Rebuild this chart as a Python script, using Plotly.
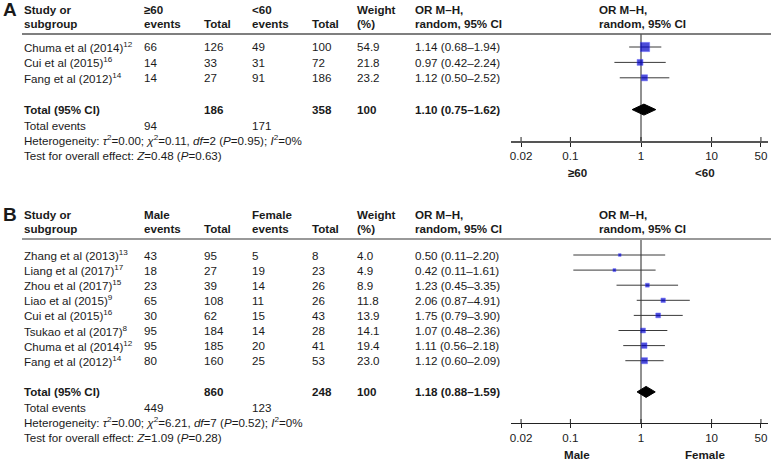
import plotly.graph_objects as go

# ---------------- data ----------------
A_studies = ["Chuma et al (2014)", "Cui et al (2015)", "Fang et al (2012)"]
A_refs = ["12", "16", "14"]
A_ev1 = [66, 14, 14]
A_tot1 = [126, 33, 27]
A_ev2 = [49, 31, 91]
A_tot2 = [100, 72, 186]
A_weight = [54.9, 21.8, 23.2]
A_or = [1.14, 0.97, 1.12]
A_lo = [0.68, 0.42, 0.50]
A_hi = [1.94, 2.24, 2.52]
A_sum_tot = [186, 358]
A_sum_events = [94, 171]
A_sum_or = [1.10, 0.75, 1.62]
A_het = ["0.00", "0.11", "2", "0.95", "0%"]
A_test = ["0.48", "0.63"]
A_groups = ["≥60", "<60"]

B_studies = ["Zhang et al (2013)", "Liang et al (2017)", "Zhou et al (2017)", "Liao et al (2015)",
             "Cui et al (2015)", "Tsukao et al (2017)", "Chuma et al (2014)", "Fang et al (2012)"]
B_refs = ["13", "17", "15", "9", "16", "8", "12", "14"]
B_ev1 = [43, 18, 23, 65, 30, 95, 95, 80]
B_tot1 = [95, 27, 39, 108, 62, 184, 185, 160]
B_ev2 = [5, 19, 14, 11, 15, 14, 20, 25]
B_tot2 = [8, 23, 26, 26, 43, 28, 41, 53]
B_weight = [4.0, 4.9, 8.9, 11.8, 13.9, 14.1, 19.4, 23.0]
B_or = [0.50, 0.42, 1.23, 2.06, 1.75, 1.07, 1.11, 1.12]
B_lo = [0.11, 0.11, 0.45, 0.87, 0.79, 0.48, 0.56, 0.60]
B_hi = [2.20, 1.61, 3.35, 4.91, 3.90, 2.36, 2.18, 2.09]
B_sum_tot = [860, 248]
B_sum_events = [449, 123]
B_sum_or = [1.18, 0.88, 1.59]
B_het = ["0.00", "6.21", "7", "0.52", "0%"]
B_test = ["1.09", "0.28"]
B_groups = ["Male", "Female"]

tick_vals = [0.02, 0.1, 1, 10, 50]
tick_text = ["0.02", "0.1", "1", "10", "50"]

# ---------------- layout constants ----------------
W, H = 771, 460
FONT = "Arial, Liberation Sans, sans-serif"
FS = 11.6
TXT = "#1a1a1a"
COLX = [22, 142, 202, 250, 310, 355, 413]   # column left edges (px)
PLOT_HDR_X = 597
AX_X0, AX_X1 = 511, 768
PX_ONE, PX_DEC = 641, 70.6
LOG_RANGE = [(AX_X0 - PX_ONE) / PX_DEC, (AX_X1 - PX_ONE) / PX_DEC]

fig = go.Figure()
ann = []


def px(x):
    return x / W


def py(y):
    return 1 - y / H


def text(x, y, s, bold=False, size=FS, anchor="left"):
    ann.append(dict(x=px(x), y=py(y), xref="paper", yref="paper", text=(f"<b>{s}</b>" if bold else s),
                    showarrow=False, xanchor=anchor, yanchor="middle",
                    font=dict(family=FONT, size=size, color=TXT)))


def panel(letter, top, row0, dy, axis_y, hdr_line_color, hdr_line_w, k, studies, refs,
          ev1, tot1, ev2, tot2, w, orv, lo, hi, sum_tot, sum_ev, sum_or, het, test, groups):
    xr = "x" if k == 1 else "x2"
    yr = "y" if k == 1 else "y2"
    # header
    text(1, top, letter, bold=True, size=19)
    y1, y2 = top, top + 14
    text(COLX[0], y1, "Study or", True); text(COLX[0], y2, "subgroup", True)
    text(COLX[1], y1, groups[0], True); text(COLX[1], y2, "events", True)
    text(COLX[2], y2, "Total", True)
    text(COLX[3], y1, groups[1], True); text(COLX[3], y2, "events", True)
    text(COLX[4], y2, "Total", True)
    text(COLX[5], y1, "Weight", True); text(COLX[5], y2, "(%)", True)
    text(COLX[6], y1, "OR M–H,", True); text(COLX[6], y2, "random, 95% CI", True)
    text(PLOT_HDR_X, y1, "OR M–H,", True); text(PLOT_HDR_X, y2, "random, 95% CI", True)
    line_y = top + 25
    fig.add_shape(type="line", xref="paper", yref="paper", x0=px(22), x1=1, y0=py(line_y), y1=py(line_y),
                  line=dict(color=hdr_line_color, width=hdr_line_w))
    # rows
    ys = [row0 + i * dy for i in range(len(studies))]
    for i, y in enumerate(ys):
        text(COLX[0], y, f"{studies[i]}<sup>{refs[i]}</sup>")
        text(COLX[1], y, str(ev1[i])); text(COLX[2], y, str(tot1[i]))
        text(COLX[3], y, str(ev2[i])); text(COLX[4], y, str(tot2[i]))
        text(COLX[5], y, f"{w[i]:.1f}")
        text(COLX[6], y, f"{orv[i]:.2f} ({lo[i]:.2f}–{hi[i]:.2f})")
    ty = ys[-1] + 2 * dy + 1
    text(COLX[0], ty, "Total (95% CI)", True)
    text(COLX[2], ty, str(sum_tot[0]), True)
    text(COLX[4], ty, str(sum_tot[1]), True)
    text(COLX[5], ty, "100", True)
    text(COLX[6], ty, f"{sum_or[0]:.2f} ({sum_or[1]:.2f}–{sum_or[2]:.2f})", True)
    text(COLX[0], ty + dy, "Total events")
    text(COLX[1], ty + dy, str(sum_ev[0])); text(COLX[3], ty + dy, str(sum_ev[1]))
    text(COLX[0], ty + 2 * dy,
         f"Heterogeneity: <i>τ</i><sup>2</sup>={het[0]}; <i>χ</i><sup>2</sup>={het[1]}, "
         f"<i>df</i>={het[2]} (<i>P</i>={het[3]}); <i>I</i><sup>2</sup>={het[4]}")
    text(COLX[0], ty + 3 * dy, f"Test for overall effect: <i>Z</i>={test[0]} (<i>P</i>={test[1]})")

    # null line
    fig.add_trace(go.Scatter(x=[1, 1], y=[line_y, axis_y], mode="lines", xaxis=xr, yaxis=yr,
                             line=dict(color="#222", width=1), hoverinfo="skip"))
    # CI lines
    cx, cy = [], []
    for i, y in enumerate(ys):
        cx += [lo[i], hi[i], None]; cy += [y, y, None]
    fig.add_trace(go.Scatter(x=cx, y=cy, mode="lines", xaxis=xr, yaxis=yr,
                             line=dict(color="#3a3a3a", width=1), hoverinfo="skip"))
    # squares
    fig.add_trace(go.Scatter(x=orv, y=ys, mode="markers", xaxis=xr, yaxis=yr,
                             marker=dict(symbol="square", size=[1.2 * v ** 0.5 + 0.3 for v in w],
                                         color="#0000c8", line=dict(color="#2a2aff", width=0.5)),
                             hoverinfo="skip"))
    # diamond
    hh = 5.5
    fig.add_trace(go.Scatter(x=[sum_or[1], sum_or[0], sum_or[2], sum_or[0], sum_or[1]],
                             y=[ty, ty - hh, ty, ty + hh, ty], mode="lines", fill="toself",
                             fillcolor="black", line=dict(color="black", width=1),
                             xaxis=xr, yaxis=yr, hoverinfo="skip"))
    # upper halves of tick marks
    tx, tyy = [], []
    for v in tick_vals:
        tx += [v, v, None]; tyy += [axis_y - 4, axis_y, None]
    fig.add_trace(go.Scatter(x=tx, y=tyy, mode="lines", xaxis=xr, yaxis=yr,
                             line=dict(color="#222", width=1), hoverinfo="skip"))
    # group labels below axis
    text(577, axis_y + 31, groups[0], True, anchor="center")
    text(705, axis_y + 31, groups[1], True, anchor="center")


A_TOP, A_AX = 9, 141
B_TOP, B_AX = 214, 423
panel("A", A_TOP, 47, 15.4, A_AX, "#555", 1.5, 1, A_studies, A_refs, A_ev1, A_tot1, A_ev2, A_tot2,
      A_weight, A_or, A_lo, A_hi, A_sum_tot, A_sum_events, A_sum_or, A_het, A_test, A_groups)
panel("B", B_TOP, 255, 15.1, B_AX, "#999", 2, 2, B_studies, B_refs, B_ev1, B_tot1, B_ev2, B_tot2,
      B_weight, B_or, B_lo, B_hi, B_sum_tot, B_sum_events, B_sum_or, B_het, B_test, B_groups)


def xaxis(anchor, color, width):
    return dict(type="log", domain=[px(AX_X0), px(AX_X1)], range=LOG_RANGE, anchor=anchor,
                showline=True, linecolor=color, linewidth=width,
                showgrid=False, zeroline=False, ticks="outside", ticklen=4, tickcolor="#222",
                tickwidth=1, tickvals=tick_vals, ticktext=tick_text,
                tickfont=dict(family=FONT, size=FS, color=TXT), fixedrange=True)


def yaxis(anchor, y_top, y_bot):
    return dict(domain=[py(y_bot), py(y_top)], range=[y_bot, y_top], anchor=anchor,
                visible=False, fixedrange=True)


fig.update_layout(
    width=W, height=H, margin=dict(l=0, r=0, t=0, b=0, autoexpand=False),
    paper_bgcolor="white", plot_bgcolor="white", showlegend=False,
    xaxis=xaxis("y", "#555", 1.5),
    xaxis2=xaxis("y2", "#222", 1),
    yaxis=yaxis("x", 0, A_AX),
    yaxis2=yaxis("x2", 150, B_AX),
    annotations=ann,
)

fig.write_html("out.html", config={"displayModeBar": False, "staticPlot": True},
               post_script="document.body.style.margin='0';document.body.style.overflow='hidden';")
